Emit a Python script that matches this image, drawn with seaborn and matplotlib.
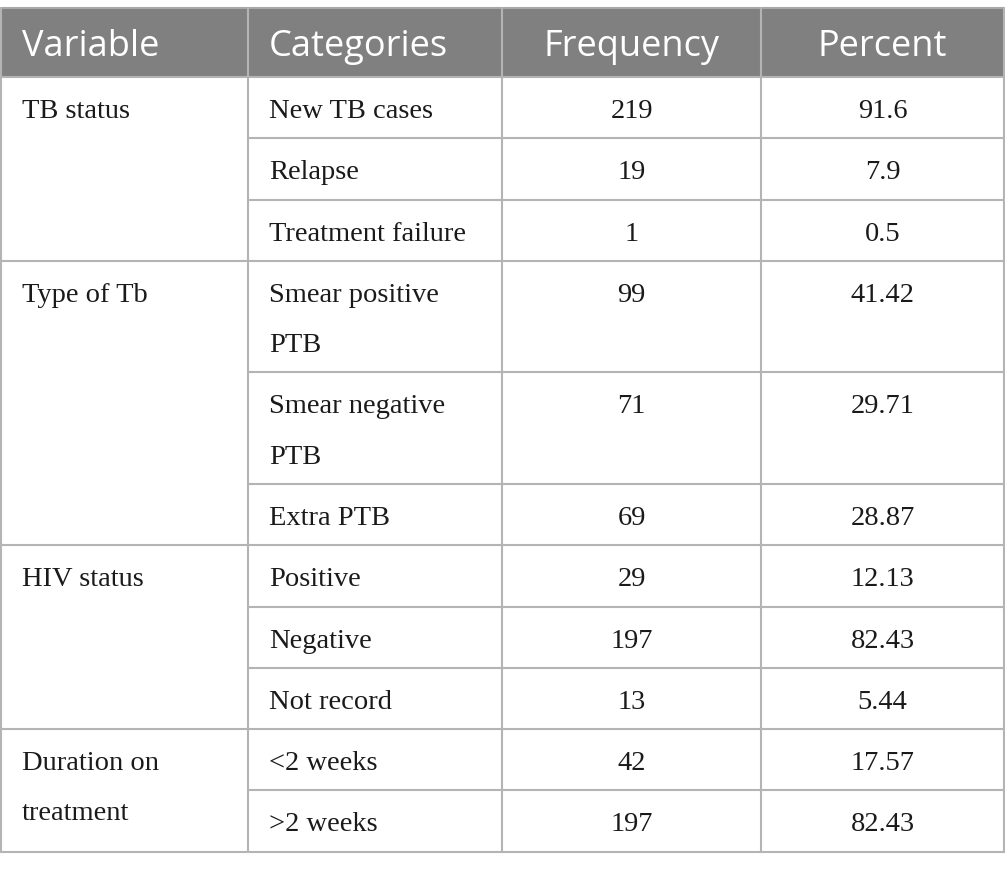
import matplotlib
matplotlib.use("Agg")
import matplotlib.pyplot as plt
import seaborn as sns

# table contents
headers = ["Variable", "Categories", "Frequency", "Percent"]
variables = ["TB status", "Type of Tb", "HIV status", "Duration on\ntreatment"]
group_sizes = [3, 3, 3, 2]
categories = ["New TB cases", "Relapse", "Treatment failure",
              "Smear positive\nPTB", "Smear negative\nPTB", "Extra PTB",
              "Positive", "Negative", "Not record",
              "<2 weeks", ">2 weeks"]
frequency = [219, 19, 1, 99, 71, 69, 29, 197, 13, 42, 197]
percent = ["91.6", "7.9", "0.5", "41.42", "29.71", "28.87",
           "12.13", "82.43", "5.44", "17.57", "82.43"]

sns.set_theme(style="white")

W, H = 1005, 871
fig = plt.figure(figsize=(W / 100, H / 100), dpi=100)
ax = fig.add_axes([0, 0, 1, 1])
ax.set_xlim(0, W)
ax.set_ylim(H, 0)
ax.axis("off")

col_x = [0.5, 248, 502, 761, 1004]
top, head_bot = 8, 77
line_h = 50.2
single_h = 61.3
grid_col = "#b4b4b4"
body_font = "Liberation Serif"
head_font = "Open Sans"

# header
ax.add_patch(plt.Rectangle((col_x[0], top), col_x[-1] - col_x[0], head_bot - top,
                           facecolor="#808080", edgecolor="none", zorder=1))
for i, h in enumerate(headers):
    if i < 2:
        ax.text(col_x[i] + 21, top + 48, h, color="white", fontsize=26,
                family=head_font, va="baseline", ha="left", zorder=3)
    else:
        ax.text((col_x[i] + col_x[i + 1]) / 2, top + 48, h, color="white", fontsize=26,
                family=head_font, va="baseline", ha="center", zorder=3)


def draw_lines(x, y0, text, ha):
    for k, ln in enumerate(text.split("\n")):
        ax.text(x, y0 + 41 + k * line_h, ln, fontsize=20.5, family=body_font,
                color="#1a1a1a", va="baseline", ha=ha, zorder=3)


# body rows
row_tops = []
y = head_bot
for c in categories:
    row_tops.append(y)
    y += single_h + (c.count("\n")) * line_h
bottom = y

for r, c in enumerate(categories):
    y0 = row_tops[r]
    draw_lines(col_x[1] + 21, y0, c, "left")
    draw_lines((col_x[2] + col_x[3]) / 2, y0, str(frequency[r]), "center")
    draw_lines((col_x[3] + col_x[4]) / 2, y0, percent[r], "center")

# variable column (merged cells)
start = 0
for v, n in zip(variables, group_sizes):
    draw_lines(col_x[0] + 21, row_tops[start], v, "left")
    start += n

# horizontal grid lines
group_starts = set()
s = 0
for n in group_sizes:
    group_starts.add(s)
    s += n
for r, y0 in enumerate(row_tops):
    x_start = col_x[0] if r in group_starts else col_x[1]
    ax.plot([x_start, col_x[-1]], [y0, y0], color=grid_col, lw=1.5, zorder=2)
ax.plot([col_x[0], col_x[-1]], [bottom, bottom], color=grid_col, lw=1.5, zorder=2)
ax.plot([col_x[0], col_x[-1]], [top, top], color="#a8a8a8", lw=1.5, zorder=2)

# vertical grid lines
for x in col_x:
    ax.plot([x, x], [top, bottom], color=grid_col, lw=1.5, zorder=2)

fig.savefig("out.png", dpi=100)
